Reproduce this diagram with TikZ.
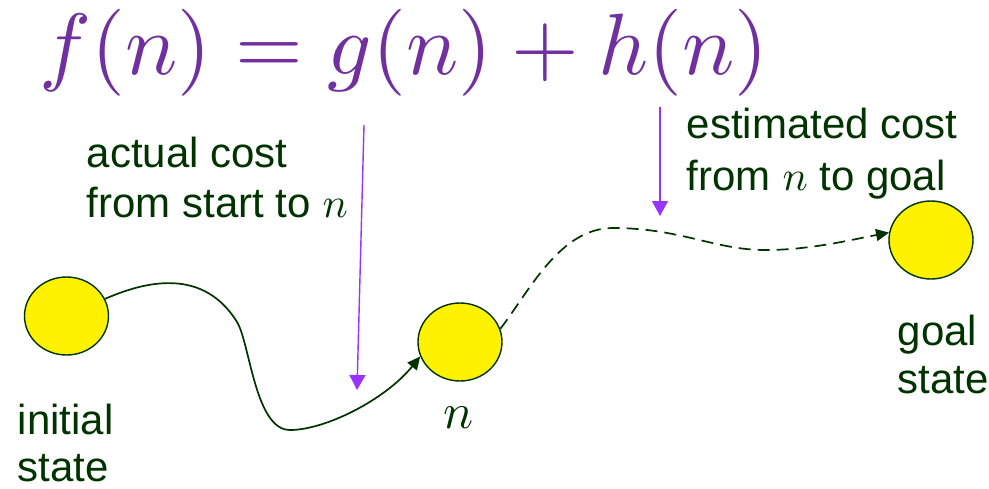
\documentclass[tikz,border=0pt]{standalone}
\usepackage{fontspec}
\setmainfont{Liberation Sans}
\usetikzlibrary{shapes.geometric,arrows.meta}
\definecolor{titlepurple}{RGB}{112,48,160}
\definecolor{arrowpurple}{RGB}{153,51,255}
\definecolor{dgreen}{RGB}{0,51,0}
\tikzset{
  statenode/.style={ellipse,draw=dgreen,line width=1.4pt,fill=yellow,minimum width=84pt,minimum height=78pt,inner sep=0pt},
  lbl/.style={anchor=base west,inner sep=0pt,text=dgreen,font=\fontsize{10}{12}\selectfont,scale=4.2},
  pointer/.style={draw=arrowpurple,line width=1.4pt,-{Triangle[length=15pt,width=16pt]}},
  pathline/.style={draw=dgreen,line width=1.7pt,-{Triangle[length=13pt,width=12pt]}},
}
\begin{document}
\begin{tikzpicture}[x=1pt,y=-1pt]
\useasboundingbox (0,0) rectangle (989,488);
\node[anchor=base west,inner sep=0pt,text=titlepurple,font=\fontsize{10}{12}\selectfont,scale=8.7] (title) at (38,74) {$f(n)=g(n)+h(n)$};
\node[statenode] (init) at (66.5,316) {};
\node[statenode] (nn) at (460,342) {};
\node[statenode] (goal) at (931,240) {};
\node[lbl] (a1) at (86,167) {actual cost};
\node[lbl] (a2) at (86,217) {from start to $n$};
\node[lbl] (e1) at (686,138) {estimated cost};
\node[lbl] (e2) at (686,190) {from $n$ to goal};
\node[lbl] (i1) at (17,434) {initial};
\node[lbl] (i2) at (17,481) {state};
\node[lbl] (g1) at (897,345) {goal};
\node[lbl] (g2) at (897,393) {state};
\node[anchor=base,inner sep=0pt,text=dgreen,font=\fontsize{10}{12}\selectfont,scale=5] (nlbl) at (459,428) {$n$};
\coordinate (p1s) at (364,125);
\coordinate (p1e) at (357,390);
\coordinate (p2s) at (660,107);
\coordinate (p2e) at (660,216);
\draw[pointer] (p1s) -- (p1e);
\draw[pointer] (p2s) -- (p2e);
\draw[pathline] (init.24) .. controls (135,286) and (200,262) .. (237,322)
  .. controls (250,343) and (255,430) .. (290,430)
  .. controls (325,430) and (385,400) .. (nn.200);
\draw[pathline,dash pattern=on 12pt off 7pt] (nn.18) .. controls (530,290) and (560,228) .. (613,228)
  .. controls (680,228) and (715,250) .. (765,250)
  .. controls (810,250) and (850,240) .. (goal.170);
\end{tikzpicture}
\end{document}
